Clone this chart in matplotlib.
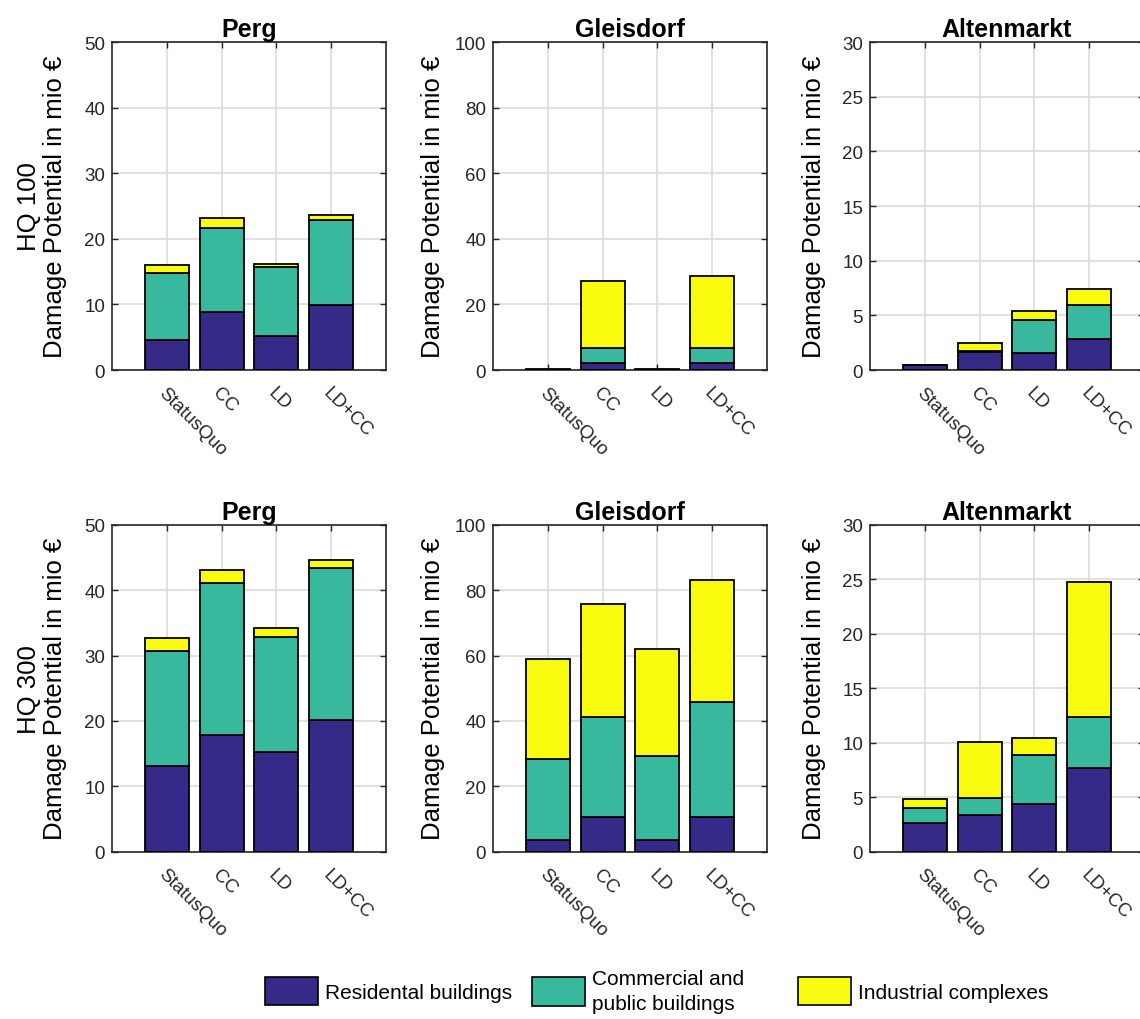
import matplotlib
matplotlib.use("Agg")
import matplotlib.pyplot as plt
import numpy as np
from matplotlib.patches import Patch

plt.rcParams['font.family'] = ['Liberation Sans', 'DejaVu Sans']

scenarios = ["StatusQuo", "CC", "LD", "LD+CC"]
towns = ["Perg", "Gleisdorf", "Altenmarkt"]
events = ["HQ 100", "HQ 300"]
series_names = ["Residental buildings", "Commercial and\npublic buildings", "Industrial complexes"]
colors = ["#352a87", "#38b99e", "#f9fb0e"]
ylims = [50, 100, 30]

# HQ 100 segment values (mio €)
perg_hq100_res = [4.5, 8.8, 5.2, 9.9]
perg_hq100_com = [10.3, 12.8, 10.5, 12.9]
perg_hq100_ind = [1.2, 1.6, 0.4, 0.9]
gleis_hq100_res = [0.1, 2.0, 0.1, 2.0]
gleis_hq100_com = [0.05, 4.7, 0.05, 4.7]
gleis_hq100_ind = [0.05, 20.5, 0.05, 22.0]
alten_hq100_res = [0.45, 1.67, 1.52, 2.83]
alten_hq100_com = [0.0, 0.03, 3.08, 3.12]
alten_hq100_ind = [0.0, 0.74, 0.77, 1.43]

# HQ 300 segment values (mio €)
perg_hq300_res = [13.1, 17.8, 15.2, 20.1]
perg_hq300_com = [17.6, 23.3, 17.6, 23.3]
perg_hq300_ind = [2.0, 2.0, 1.4, 1.2]
gleis_hq300_res = [3.5, 10.6, 3.5, 10.6]
gleis_hq300_com = [24.8, 30.6, 25.7, 35.2]
gleis_hq300_ind = [30.6, 34.6, 32.8, 37.4]
alten_hq300_res = [2.61, 3.37, 4.38, 7.66]
alten_hq300_com = [1.38, 1.56, 4.51, 4.69]
alten_hq300_ind = [0.79, 5.15, 1.50, 12.45]

data = {
    (0, 0): (perg_hq100_res, perg_hq100_com, perg_hq100_ind),
    (0, 1): (gleis_hq100_res, gleis_hq100_com, gleis_hq100_ind),
    (0, 2): (alten_hq100_res, alten_hq100_com, alten_hq100_ind),
    (1, 0): (perg_hq300_res, perg_hq300_com, perg_hq300_ind),
    (1, 1): (gleis_hq300_res, gleis_hq300_com, gleis_hq300_ind),
    (1, 2): (alten_hq300_res, alten_hq300_com, alten_hq300_ind),
}

W, H = 1140, 1020
fig = plt.figure(figsize=(W / 100, H / 100), dpi=100)

lefts = [112, 493, 870]
row_tops = [43, 526]
row_bots = [371, 852.5]
axw = 274
label_x = [-0.165, -0.175, -0.16]

x = np.arange(1, len(scenarios) + 1)
for r in range(2):
    for c in range(3):
        ax = fig.add_axes([lefts[c] / W, 1 - row_bots[r] / H, axw / W,
                           (row_bots[r] - row_tops[r]) / H])
        segs = data[(r, c)]
        bottom = np.zeros(len(scenarios))
        for s, vals in enumerate(segs):
            ax.bar(x, vals, width=0.8, bottom=bottom, color=colors[s],
                   edgecolor="black", linewidth=1.3, zorder=3)
            bottom = bottom + np.array(vals)
        ax.set_xlim(0, 5)
        ax.set_ylim(0, ylims[c])
        ax.set_xticks(x)
        ax.set_xticklabels(scenarios, rotation=-45, ha="left", va="top",
                           rotation_mode="anchor", fontsize=13.5)
        ax.tick_params(axis="both", direction="in", length=4, width=1,
                       top=True, right=True, labelsize=13.5, colors="#262626",
                       labelcolor="#262626")
        ax.tick_params(axis="x", pad=10)
        ax.tick_params(axis="y", pad=5)
        ax.grid(True, color="#dcdcdc", linewidth=1.2, zorder=0)
        ax.set_axisbelow(True)
        for sp in ax.spines.values():
            sp.set_color("#262626")
            sp.set_linewidth(1.2)
        ax.set_title(towns[c], fontsize=18, fontweight="bold", pad=4)
        if c == 0:
            lbl = events[r] + "\nDamage Potential in mio €"
        else:
            lbl = "Damage Potential in mio €"
        ax.set_ylabel(lbl, fontsize=18.5, linespacing=1.1)
        ax.yaxis.set_label_coords(label_x[c], 0.5)

# legend entries placed individually (MATLAB-like spacing)
leg_left = [265, 532, 798]
for i in range(3):
    h = Patch(facecolor=colors[i], edgecolor="black", linewidth=1.2)
    leg = fig.legend([h], [series_names[i]], loc="center left",
                     bbox_to_anchor=(leg_left[i] / W, 1 - 992 / H),
                     frameon=False, fontsize=15, handlelength=2.55, handleheight=1.75,
                     handletextpad=0.35, borderpad=0, borderaxespad=0,
                     labelspacing=0.2)
    for t in leg.get_texts():
        t.set_linespacing(1.4)

fig.savefig("out.png", dpi=100)
